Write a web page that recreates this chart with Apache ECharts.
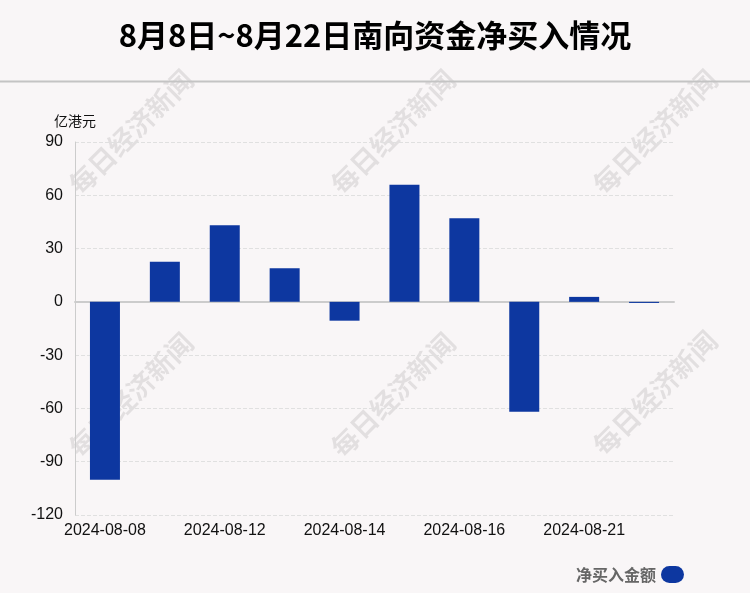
<!DOCTYPE html>
<html>
<head>
<meta charset="utf-8">
<script src="https://cdn.jsdelivr.net/npm/echarts@6/dist/echarts.min.js"></script>
<style>
html,body{margin:0;padding:0;background:#f9f6f7;}
#main{width:750px;height:593px;}
</style>
</head>
<body>
<div id="main"></div>
<script>
var categories = ['2024-08-08','2024-08-09','2024-08-12','2024-08-13','2024-08-14','2024-08-15','2024-08-16','2024-08-19','2024-08-21','2024-08-22'];
var netBuy = [-100.1, 22.6, 43.1, 18.9, -10.6, 65.9, 47.1, -61.8, 2.8, -0.6];
var seriesName = '净买入金额';
var titleText = '8月8日~8月22日南向资金净买入情况';
var unitName = '亿港元';

var chart = echarts.init(document.getElementById('main'));
var wmPos = [[131,132],[393,132],[655,132],[131,395],[393,395],[655,393]];
var graphics = wmPos.map(function(p){
  return {type:'text', x:p[0], y:p[1], rotation:Math.PI/4, z:-1,
    style:{text:'每日经济新闻', fill:'rgba(0,0,0,0.09)', font:'bold 27px "Noto Sans CJK SC"', textAlign:'center', textVerticalAlign:'middle'}};
});
graphics.push({type:'line', shape:{x1:0,y1:81.5,x2:750,y2:81.5}, style:{stroke:'#c4c4c4', lineWidth:2}});
chart.setOption({
  backgroundColor:'#f9f6f7',
  title:{text:titleText, left:'center', top:15, textStyle:{fontSize:31, fontWeight:'bold', color:'#000', fontFamily:'"Noto Sans CJK SC"'}},
  graphic:graphics,
  legend:{data:[seriesName], right:61, bottom:5, align:'right', itemWidth:23, itemHeight:17,
    icon:'path://M8.5,0 H14.5 A8.5,8.5 0 0 1 14.5,17 H8.5 A8.5,8.5 0 0 1 8.5,0 Z', itemGap:6,
    textStyle:{fontSize:16, color:'#666', fontWeight:'bold', fontFamily:'"Noto Sans CJK SC"'}},
  grid:{left:75, right:76, top:142, bottom:78},
  xAxis:{type:'category', data:categories,
    axisLine:{onZero:true, lineStyle:{color:'#cccccc', width:2}},
    axisTick:{show:false},
    axisLabel:{interval:1, fontSize:16, color:'#111', margin:8, fontFamily:'Liberation Sans'}},
  yAxis:{type:'value', min:-120, max:90, interval:30, name:unitName, nameGap:14,
    nameTextStyle:{fontSize:14, color:'#111', align:'center', fontFamily:'"Noto Sans CJK SC"'},
    axisLine:{show:true, lineStyle:{color:'#cccccc'}},
    axisTick:{show:false},
    axisLabel:{fontSize:16, color:'#111', margin:12, fontFamily:'Liberation Sans'},
    splitLine:{lineStyle:{type:'dashed', color:'#e0e0e0'}}},
  series:[{name:seriesName, type:'bar', data:netBuy, barWidth:30, itemStyle:{color:'#0d37a0'}}]
});
</script>
</body>
</html>
